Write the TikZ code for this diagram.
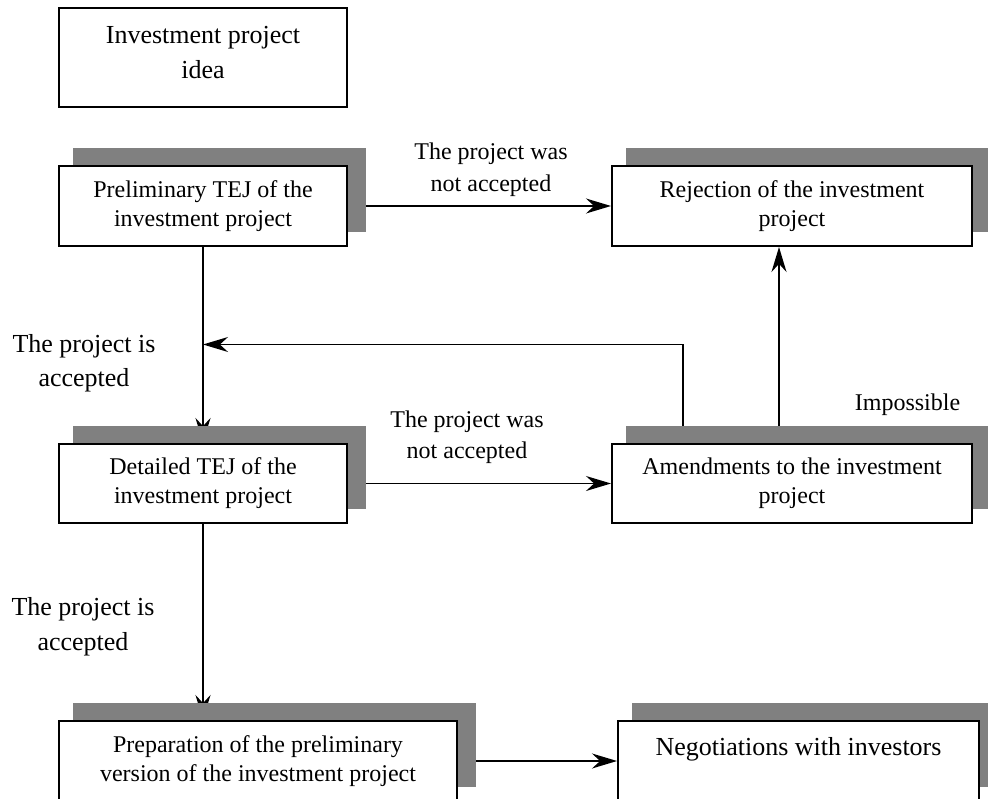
\documentclass[tikz,border=0pt]{standalone}
\usepackage{fontspec}
\setmainfont{Liberation Serif}
\usetikzlibrary{arrows.meta,calc}
\definecolor{shadowgray}{RGB}{128,128,128}
\pgfdeclarelayer{lines}
\pgfdeclarelayer{shadows}
\pgfsetlayers{lines,shadows,main}
\tikzset{
  box/.style={draw, line width=2pt, fill=white, align=center, inner sep=0pt,
    font=\fontsize{24}{29}\selectfont},
  bigbox/.style={box, font=\fontsize{26}{35}\selectfont},
  shadowfill/.style={fill=shadowgray, draw=none},
  arr/.style={line width=1.6pt, -{Stealth[length=25pt,width=15pt]}},
  lbl/.style={align=center, inner sep=0pt, font=\fontsize{24}{32}\selectfont},
  lblbig/.style={align=center, inner sep=0pt, font=\fontsize{26}{35}\selectfont},
}
\begin{document}
\begin{tikzpicture}[x=1pt,y=-1pt]
\useasboundingbox (0,0) rectangle (988,799);
\clip (0,0) rectangle (988,799);

% boxes
\node[bigbox, minimum width=288pt, minimum height=99pt] (idea) at (203,57.5) {Investment project\\idea\strut};
\node[box, minimum width=288pt, minimum height=80pt] (prelim) at (203,206) {Preliminary TEJ of the\\investment project};
\node[box, minimum width=360pt, minimum height=80pt] (reject) at (792,206) {Rejection of the investment\\project};
\node[box, minimum width=288pt, minimum height=79pt] (detailed) at (203,483.5) {Detailed TEJ of the\\investment project};
\node[box, minimum width=360pt, minimum height=79pt] (amend) at (792,483.5) {Amendments to the investment\\project};
\node[box, minimum width=398pt, minimum height=80pt] (prep) at (258,761) {Preparation of the preliminary\\version of the investment project};
\node[bigbox, minimum width=361pt, minimum height=80pt, text height=18pt, text depth=30pt] (negot) at (798.5,761) {Negotiations with investors};

% labels
\node[lbl] (l1) at (491,169.5) {The project was\\not accepted};
\node[lbl, font=\fontsize{24}{31.5}\selectfont] (l2) at (467,437) {The project was\\not accepted};
\node[lblbig, font=\fontsize{26}{34}\selectfont] (l3) at (84,363) {The project is\\accepted};
\node[lblbig] (l4) at (83,627) {The project is\\accepted};
\node[lbl] (l5) at (907.5,405) {Impossible};

% helper coordinates
\coordinate (upx) at (779,0);
\coordinate (fbx) at (683,0);
\coordinate (fb) at (203,344.5);

% shadows
\begin{pgfonlayer}{shadows}
\clip (0,0) rectangle (988,799);
\foreach \b in {prelim,reject,detailed,amend,prep,negot}{
  \fill[shadowfill] ($(\b.north west)+(15,-17)$) rectangle ($(\b.south east)+(18,-15)$);
}
\end{pgfonlayer}

% connectors
\begin{pgfonlayer}{lines}
\clip (0,0) rectangle (988,799);
\draw[arr] (prelim.east) -- (reject.west);
\draw[arr] (prelim.south) -- (detailed.north);
\draw[arr] (detailed.east) -- (amend.west);
\draw[arr] (amend.north -| upx) -- (reject.south -| upx);
\draw[arr] (amend.north -| fbx) |- (fb);
\draw[arr] (detailed.south) -- (prep.north -| detailed.south);
\draw[arr] (prep.east) -- (negot.west);
\end{pgfonlayer}
\end{tikzpicture}
\end{document}
